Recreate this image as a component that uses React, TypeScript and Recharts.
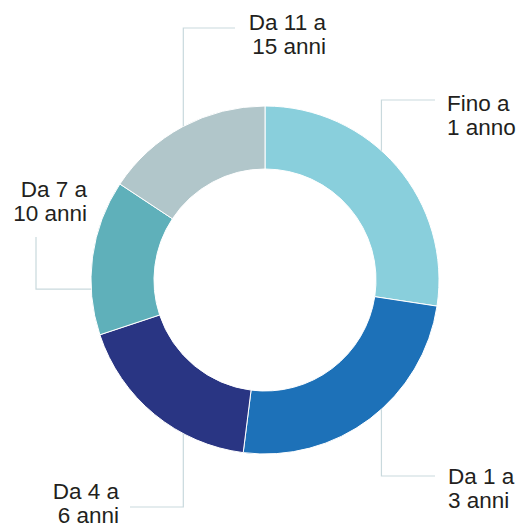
import React from 'react';
import { PieChart, Pie, Cell } from 'recharts';

const CATEGORIES = ['Fino a 1 anno', 'Da 1 a 3 anni', 'Da 4 a 6 anni', 'Da 7 a 10 anni', 'Da 11 a 15 anni'];
const LABEL_LINES = [
    ['Fino a', '1 anno'],
    ['Da 1 a', '3 anni'],
    ['Da 4 a', '6 anni'],
    ['Da 7 a', '10 anni'],
    ['Da 11 a', '15 anni'],
];
const VALUES = [27.4, 24.6, 17.9, 14.4, 15.7];
const COLORS = ['#89cfdc', '#1d71b8', '#293583', '#5fb0ba', '#b1c6ca'];

const data = CATEGORIES.map((name, i) => ({ name, value: VALUES[i] }));

// leader line layout, relative to the pie centre
// angle: clockwise from top where the line leaves the ring
const LABEL_LAYOUT = [
    { angle: 42, dir: 'v', turn: -180, end: 170, tx: 182, ty: -169, anchor: 'start' },
    { angle: 138, dir: 'v', turn: 196, end: 170, tx: 183, ty: 204, anchor: 'start' },
    { angle: 208, dir: 'v', turn: 227, end: -135, tx: -146, ty: 219, anchor: 'end' },
    { angle: 267, dir: 'h', turn: -229, end: -43, tx: -178, ty: -83, anchor: 'end' },
    { angle: 332, dir: 'v', turn: -252, end: -30, tx: 61, ty: -250, anchor: 'end' },
];

const LINE_COLOR = '#c9d9dd';
const TEXT_COLOR = '#231f20';

const renderLabel = (props: any) => {
    const { cx, cy, outerRadius, index } = props;
    const l = LABEL_LAYOUT[index];
    const rad = (l.angle * Math.PI) / 180;
    const ax = cx + outerRadius * Math.sin(rad);
    const ay = cy - outerRadius * Math.cos(rad);
    let pts;
    if (l.dir === 'v') {
        const y = cy + l.turn;
        pts = `${ax},${ay} ${ax},${y} ${cx + l.end},${y}`;
    } else {
        const x = cx + l.turn;
        pts = `${ax},${ay} ${x},${ay} ${x},${cy + l.end}`;
    }
    return (
        <g key={`label-${index}`}>
            <polyline points={pts} fill="none" stroke={LINE_COLOR} strokeWidth={1.2} />
            <text
                x={cx + l.tx}
                y={cy + l.ty}
                textAnchor={l.anchor}
                fill={TEXT_COLOR}
                fontSize={22.5}
                fontFamily="'Liberation Sans', Arial, sans-serif"
            >
                <tspan x={cx + l.tx}>{LABEL_LINES[index][0]}</tspan>
                <tspan x={cx + l.tx} dy={23.5}>{LABEL_LINES[index][1]}</tspan>
            </text>
        </g>
    );
};

export default function App() {
    return (
        <div style={{ position: 'absolute', left: 0, top: 0, width: 524, height: 526, background: '#fff' }}>
            <PieChart width={524} height={526} margin={{ top: 0, right: 0, bottom: 0, left: 0 }}>
                <Pie
                    data={data}
                    dataKey="value"
                    nameKey="name"
                    cx={265}
                    cy={280}
                    innerRadius={111}
                    outerRadius={174}
                    startAngle={90}
                    endAngle={-270}
                    stroke="#ffffff"
                    strokeWidth={1}
                    label={renderLabel}
                    labelLine={false}
                    isAnimationActive={false}
                >
                    {data.map((entry, index) => (
                        <Cell key={`cell-${index}`} fill={COLORS[index]} />
                    ))}
                </Pie>
            </PieChart>
        </div>
    );
}
